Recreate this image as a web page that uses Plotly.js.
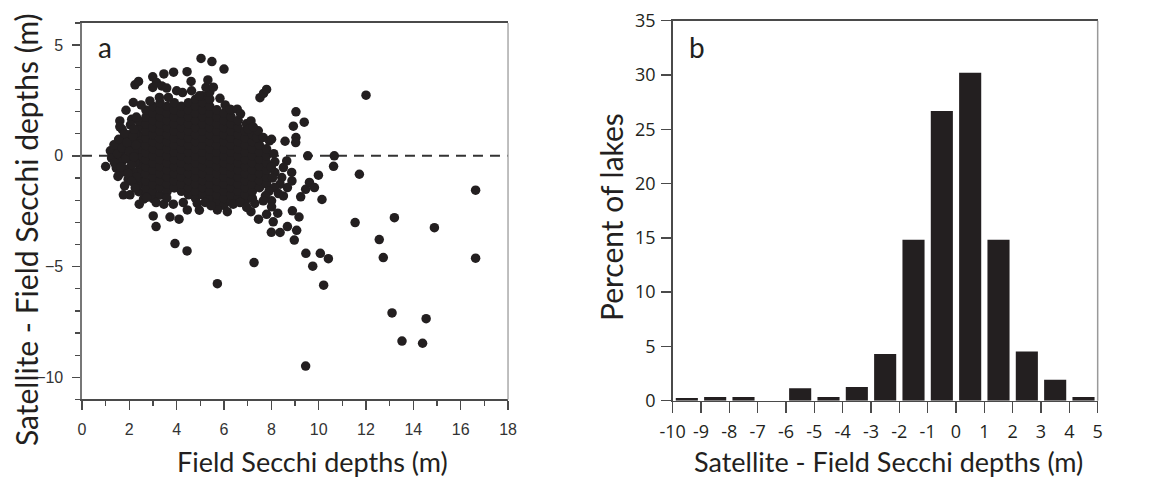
<!DOCTYPE html>
<html>
<head>
<meta charset="utf-8">
<script src="https://cdn.plot.ly/plotly-3.0.1.min.js"></script>
<style>html,body{margin:0;padding:0;background:#fff;}#chart{width:1166px;height:483px;}</style>
</head>
<body>
<div id="chart"></div>
<script>
// ---------- Panel a: scatter data ----------
// Dense core: x position of each read column and the y values read in it
const denseColumnX = [2.4, 2.7, 3.0, 3.3, 3.6, 3.9, 4.2, 4.5, 4.8, 5.1, 5.4, 5.7, 6.0, 6.3, 6.6, 6.9, 7.2, 7.5, 7.8];
const denseColumnY = [
  [-1.62,-1.3,-0.98,-0.66,-0.35,-0.02,0.3,0.62,0.95,1.27,1.58],
  [-1.78,-1.45,-1.13,-0.8,-0.49,-0.17,0.15,0.47,0.8,1.12,1.43,1.75,2.07],
  [-1.93,-1.6,-1.29,-0.96,-0.64,-0.33,0,0.31,0.63,0.96,1.28,1.6,1.92,2.23],
  [-1.77,-1.44,-1.12,-0.8,-0.48,-0.16,0.16,0.48,0.79,1.12,1.44,1.76,2.08,2.4],
  [-1.6,-1.28,-0.96,-0.64,-0.32,0,0.32,0.64,0.96,1.28,1.6,1.92,2.24],
  [-1.45,-1.12,-0.8,-0.48,-0.16,0.16,0.48,0.8,1.12,1.44,1.76,2.08,2.4],
  [-1.6,-1.28,-0.96,-0.64,-0.32,0,0.32,0.64,0.96,1.28,1.6,1.92,2.24],
  [-1.76,-1.44,-1.12,-0.8,-0.48,-0.16,0.16,0.48,0.8,1.12,1.44,1.76,2.08,2.4],
  [-1.92,-1.6,-1.28,-0.96,-0.64,-0.32,0,0.32,0.64,0.96,1.28,1.6,1.92,2.24,2.56],
  [-1.76,-1.44,-1.12,-0.8,-0.48,-0.16,0.16,0.48,0.8,1.12,1.44,1.76,2.08,2.4,2.72],
  [-1.92,-1.6,-1.28,-0.96,-0.64,-0.32,0,0.32,0.64,0.96,1.28,1.6,1.92,2.24,2.56,2.88],
  [-2.08,-1.76,-1.44,-1.12,-0.8,-0.48,-0.16,0.16,0.48,0.8,1.12,1.44,1.76,2.08],
  [-2.24,-1.92,-1.6,-1.28,-0.96,-0.64,-0.32,0,0.32,0.64,0.96,1.28,1.6,1.92],
  [-2.08,-1.76,-1.44,-1.12,-0.8,-0.48,-0.16,0.16,0.48,0.8,1.12,1.44,1.76,2.08],
  [-1.92,-1.6,-1.28,-0.96,-0.64,-0.32,0,0.32,0.64,0.96,1.28,1.6],
  [-2.08,-1.76,-1.44,-1.12,-0.8,-0.48,-0.16,0.16,0.48,0.8,1.12],
  [-1.92,-1.6,-1.28,-0.96,-0.64,-0.32,0,0.32,0.64,0.96],
  [-1.44,-1.12,-0.8,-0.48,-0.16,0.16,0.48,0.8],
  [-1.28,-0.96,-0.64,-0.32,0,0.32]
];

// Left lobe of the cloud
const lobeX = [1.35,1.45,1.5,1.65,1.7,1.75,1.85,1.9,1.95,2.0,2.0,2.1,2.15,2.2,2.25,2.25,2.3,1.6,1.7,2.1,1.55];
const lobeY = [0.15,-0.55,0.4,0.1,-0.25,0.65,-0.6,0.35,-1.05,0.95,-0.15,0.55,-0.75,0.25,-0.3,1.0,-0.95,-0.8,1.2,1.65,-0.25];

// Fringe points around the dense cloud
const fringeX = [1.0,1.2,1.25,1.35,1.38,1.5,1.52,1.55,1.6,1.6,1.65,1.7,1.75,1.8,1.8,1.85,1.86,1.9,1.95,2.0,2.03,2.05,2.1,2.1,2.15,2.17,2.2,2.2,2.24,2.39,2.25,2.28,2.3,2.42,2.5,2.6,
  2.87,2.99,2.99,3.15,3.27,3.37,3.46,3.58,3.65,3.87,4.0,4.25,4.44,4.61,4.63,4.96,5.03,5.24,5.32,5.49,5.55,5.83,6.0,6.05,6.25,6.56,6.7,6.95,7.03,7.14,7.38,7.45,7.52,7.67,7.8,7.66,7.92,8.01,7.24,
  8.15,8.65,8.51,8.15,8.44,8.37,8.13,8.68,8.51,8.01,8.1,8.0,8.05,7.9,7.75,8.3,8.58,8.93,9.04,9.39,9.04,9.03,8.86,8.87,9.24,9.45,9.61,9.82,9.99,10.14,9.54,10.66,10.63,8.89,9.17,9.07,8.97,8.68,8.37,8.0,8.27,8.08,7.8,7.46,7.14,7.66,8.01,
  2.73,3.01,3.13,3.13,3.46,3.58,3.72,3.86,4.1,4.28,4.45,4.87,4.96,5.2,5.72,6.14,6.39,6.68,6.96,7.3,5.45];
const fringeY = [-0.48,0.23,-0.1,0.5,-0.32,0.1,-0.93,0.75,1.58,1.31,-0.5,0.35,-1.76,-1.36,1.0,-0.1,2.06,0.6,-0.8,0.2,-1.76,1.4,-0.4,-1.15,0.9,2.41,-0.05,1.2,3.21,3.36,-1.45,0.5,1.75,-2.18,2.3,-1.95,
  2.48,3.09,3.57,3.31,2.64,3.16,3.7,3.06,2.64,3.78,2.94,2.86,3.8,3.36,2.94,2.71,4.4,3.09,3.43,4.26,3.1,2.6,3.92,2.3,2.11,2.11,1.9,1.45,1.2,1.58,0.83,1.13,2.63,2.82,3.0,0.83,0.68,0.75,1.3,
  -0.27,-0.23,-0.53,-0.75,-0.98,-1.28,-1.43,-1.43,-1.81,-2.03,0.1,-0.5,-1.0,-1.6,-1.8,-1.7,0.66,1.34,1.99,1.52,0.83,0.6,-0.75,-1.13,-1.85,-1.51,-1.2,-1.43,-0.87,-1.97,0,0,-0.47,-2.48,-2.76,-3.36,-3.8,-3.19,-3.46,-3.45,-2.59,-2.98,-2.64,-2.86,-2.52,-2.03,-2.3,
  -1.88,-2.71,-3.19,-2.11,-2.18,-1.9,-2.76,-2.18,-2.86,-2.11,-2.44,-2.15,-2.45,-2.1,-2.44,-2.52,-2.18,-2.11,-2.33,-2.15,-2.25];

// Isolated outliers
const outlierX = [3.93,4.44,5.72,7.27,9.46,9.75,10.07,10.41,10.21,9.45,11.54,11.72,12.0,12.56,12.73,13.2,13.1,13.52,14.39,14.54,14.89,16.63,16.63];
const outlierY = [-3.96,-4.29,-5.77,-4.82,-4.4,-4.98,-4.4,-4.64,-5.84,-9.49,-3.01,-0.83,2.74,-3.78,-4.59,-2.79,-7.09,-8.36,-8.46,-7.35,-3.24,-1.55,-4.62];

// ---------- Panel b: histogram data ----------
const binCenters = [-9.5,-8.5,-7.5,-6.5,-5.5,-4.5,-3.5,-2.5,-1.5,-0.5,0.5,1.5,2.5,3.5,4.5];
const percentLakes = [0.25,0.34,0.34,0,1.14,0.34,1.26,4.3,14.83,26.68,30.2,14.83,4.54,1.93,0.34];
const histTickVals = [-10,-9,-8,-7,-6,-5,-4,-3,-2,-1,0,1,2,3,4,5];
const histTickText = ["-10","-9","-8","-7","-6","-5","-4","-3","-2","-1","0","1","2","3","4","5"];

// ---------- build ----------
const scatterX = [], scatterY = [];
denseColumnX.forEach((cx, i) => denseColumnY[i].forEach(v => { scatterX.push(cx); scatterY.push(v); }));
lobeX.forEach((v, i) => { scatterX.push(v); scatterY.push(lobeY[i]); });
fringeX.forEach((v, i) => { scatterX.push(v); scatterY.push(fringeY[i]); });
outlierX.forEach((v, i) => { scatterX.push(v); scatterY.push(outlierY[i]); });

const ink = '#231f20';
const axisCol = '#4a4a4a';

const traces = [
  {type:'scatter', mode:'markers', x:scatterX, y:scatterY, xaxis:'x', yaxis:'y',
   marker:{color:ink, size:9.5, line:{width:0}}, hoverinfo:'skip', showlegend:false},
  {type:'bar', x:binCenters, y:percentLakes, xaxis:'x2', yaxis:'y2', width:0.78,
   marker:{color:ink, line:{width:0}}, hoverinfo:'skip', showlegend:false}
];

const titleFont = {family:'Lato, "Open Sans", sans-serif', size:27, color:ink};
const yTitleFont = {family:'Lato, "Open Sans", sans-serif', size:30, color:ink};

const layout = {
  width:1166, height:483,
  margin:{l:0, r:0, t:0, b:0},
  paper_bgcolor:'#fff', plot_bgcolor:'#fff',
  showlegend:false,
  xaxis:{domain:[0.0703,0.4357], range:[0,18], tick0:0, dtick:2, anchor:'y',
    ticks:'outside', ticklen:9, tickwidth:1.5, tickcolor:axisCol,
    minor:{dtick:1, ticks:'outside', ticklen:5, tickwidth:1.2, tickcolor:axisCol, showgrid:false},
    showline:true, linecolor:axisCol, linewidth:1.5, mirror:true,
    showgrid:false, zeroline:false, ticklabelstandoff:6,
    tickfont:{family:'"Liberation Sans", Arial, sans-serif', size:16, color:'#333'}},
  yaxis:{domain:[0.1729,0.9524], range:[-11,6], tickvals:[-10,-5,0,5], anchor:'x',
    ticks:'outside', ticklen:8, tickwidth:1.5, tickcolor:axisCol,
    minor:{dtick:1, tick0:0, ticks:'outside', ticklen:5, tickwidth:1.2, tickcolor:axisCol, showgrid:false},
    showline:true, linecolor:'#777', linewidth:1.5,
    showgrid:false, zeroline:false, ticklabelstandoff:6,
    tickfont:{family:'"Liberation Sans", Arial, sans-serif', size:16, color:'#333'}},
  xaxis2:{domain:[0.5769,0.9414], range:[-10,5], tickvals:histTickVals, ticktext:histTickText, anchor:'y2',
    ticks:'outside', ticklen:11, tickwidth:1.5, tickcolor:axisCol,
    showline:true, linecolor:axisCol, linewidth:1.5, mirror:true,
    showgrid:false, zeroline:false, ticklabelstandoff:3,
    tickfont:{family:'"Open Sans", sans-serif', size:18, color:ink}},
  yaxis2:{domain:[0.1704,0.9571], range:[0,35], dtick:5, anchor:'x2',
    ticks:'outside', ticklen:10, tickwidth:1.5, tickcolor:axisCol,
    showline:true, linecolor:axisCol, linewidth:1.5,
    showgrid:false, zeroline:false, ticklabelstandoff:2,
    tickfont:{family:'"Open Sans", sans-serif', size:18, color:ink}},
  shapes:[
    {type:'line', xref:'x domain', yref:'y', x0:0, x1:1, y0:0, y1:0,
     line:{color:'#333', width:2, dash:'10px,7px'}, layer:'below'},
    {type:'line', xref:'x domain', yref:'y domain', x0:1, x1:1, y0:0, y1:1,
     line:{color:'#aaa', width:1.5}},
    {type:'line', xref:'x2 domain', yref:'y2 domain', x0:1, x1:1, y0:0, y1:1,
     line:{color:'#999', width:1.5}}
  ],
  annotations:[
    {text:'Field Secchi depths (m)', xref:'paper', yref:'paper', x:312/1166, y:1-461/483,
     xanchor:'center', yanchor:'middle', showarrow:false, font:titleFont},
    {text:'Satellite - Field Secchi depths (m)', xref:'paper', yref:'paper', x:26/1166, y:1-230/483,
     xanchor:'center', yanchor:'middle', showarrow:false, textangle:-90, font:yTitleFont},
    {text:'Satellite - Field Secchi depths (m)', xref:'paper', yref:'paper', x:888/1166, y:1-461/483,
     xanchor:'center', yanchor:'middle', showarrow:false, font:titleFont},
    {text:'Percent of lakes', xref:'paper', yref:'paper', x:611/1166, y:1-217/483,
     xanchor:'center', yanchor:'middle', showarrow:false, textangle:-90, font:yTitleFont},
    {text:'a', xref:'paper', yref:'paper', x:105/1166, y:1-47/483,
     xanchor:'center', yanchor:'middle', showarrow:false, font:{family:'Lato, sans-serif', size:28, color:ink}},
    {text:'b', xref:'paper', yref:'paper', x:697/1166, y:1-47/483,
     xanchor:'center', yanchor:'middle', showarrow:false, font:{family:'Lato, sans-serif', size:28, color:ink}}
  ]
};

Plotly.newPlot('chart', traces, layout, {displayModeBar:false, staticPlot:true});
</script>
</body>
</html>
